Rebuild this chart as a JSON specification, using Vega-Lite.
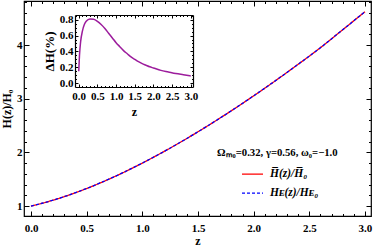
{
"$schema": "https://vega.github.io/schema/vega-lite/v6.json",
"width": 347,
"height": 215,
"autosize": "none",
"padding": {"left": 24, "top": 1, "right": 3, "bottom": 31},
"background": "white",
"config": {
  "view": {"stroke": "black", "strokeWidth": 1.2},
  "font": "Liberation Serif",
  "axis": {"labelFont": "Liberation Serif", "labelFontWeight": "bold", "titleFont": "Liberation Serif", "titleFontWeight": "bold", "labelColor": "black", "titleColor": "black", "tickColor": "black", "domainColor": "black", "grid": false, "labelOverlap": false, "labelFlush": false, "tickWidth": 1}
},
"datasets": {
  "h": [
    {"z": 0.0, "v": 1.0, "s": "H̅(z)/H̅₀"}, {"z": 0.1, "v": 1.0516, "s": "H̅(z)/H̅₀"}, {"z": 0.2, "v": 1.1104, "s": "H̅(z)/H̅₀"}, {"z": 0.3, "v": 1.176, "s": "H̅(z)/H̅₀"}, {"z": 0.4, "v": 1.2482, "s": "H̅(z)/H̅₀"}, {"z": 0.5, "v": 1.3266, "s": "H̅(z)/H̅₀"}, {"z": 0.6, "v": 1.4109, "s": "H̅(z)/H̅₀"}, {"z": 0.7, "v": 1.5007, "s": "H̅(z)/H̅₀"}, {"z": 0.8, "v": 1.5957, "s": "H̅(z)/H̅₀"}, {"z": 0.9, "v": 1.6955, "s": "H̅(z)/H̅₀"}, {"z": 1.0, "v": 1.8, "s": "H̅(z)/H̅₀"}, {"z": 1.2, "v": 2.0217, "s": "H̅(z)/H̅₀"}, {"z": 1.4, "v": 2.2591, "s": "H̅(z)/H̅₀"}, {"z": 1.6, "v": 2.5108, "s": "H̅(z)/H̅₀"}, {"z": 1.8, "v": 2.7757, "s": "H̅(z)/H̅₀"}, {"z": 2.0, "v": 3.0529, "s": "H̅(z)/H̅₀"}, {"z": 2.2, "v": 3.3415, "s": "H̅(z)/H̅₀"}, {"z": 2.4, "v": 3.6411, "s": "H̅(z)/H̅₀"}, {"z": 2.6, "v": 3.9509, "s": "H̅(z)/H̅₀"}, {"z": 2.8, "v": 4.285, "s": "H̅(z)/H̅₀"}, {"z": 3.0, "v": 4.62, "s": "H̅(z)/H̅₀"},
    {"z": 0.0, "v": 1.0, "s": "Hᴇ(z)/Hᴇ₀"}, {"z": 0.1, "v": 1.0516, "s": "Hᴇ(z)/Hᴇ₀"}, {"z": 0.2, "v": 1.1104, "s": "Hᴇ(z)/Hᴇ₀"}, {"z": 0.3, "v": 1.176, "s": "Hᴇ(z)/Hᴇ₀"}, {"z": 0.4, "v": 1.2482, "s": "Hᴇ(z)/Hᴇ₀"}, {"z": 0.5, "v": 1.3266, "s": "Hᴇ(z)/Hᴇ₀"}, {"z": 0.6, "v": 1.4109, "s": "Hᴇ(z)/Hᴇ₀"}, {"z": 0.7, "v": 1.5007, "s": "Hᴇ(z)/Hᴇ₀"}, {"z": 0.8, "v": 1.5957, "s": "Hᴇ(z)/Hᴇ₀"}, {"z": 0.9, "v": 1.6955, "s": "Hᴇ(z)/Hᴇ₀"}, {"z": 1.0, "v": 1.8, "s": "Hᴇ(z)/Hᴇ₀"}, {"z": 1.2, "v": 2.0217, "s": "Hᴇ(z)/Hᴇ₀"}, {"z": 1.4, "v": 2.2591, "s": "Hᴇ(z)/Hᴇ₀"}, {"z": 1.6, "v": 2.5108, "s": "Hᴇ(z)/Hᴇ₀"}, {"z": 1.8, "v": 2.7757, "s": "Hᴇ(z)/Hᴇ₀"}, {"z": 2.0, "v": 3.0529, "s": "Hᴇ(z)/Hᴇ₀"}, {"z": 2.2, "v": 3.3415, "s": "Hᴇ(z)/Hᴇ₀"}, {"z": 2.4, "v": 3.6411, "s": "Hᴇ(z)/Hᴇ₀"}, {"z": 2.6, "v": 3.9509, "s": "Hᴇ(z)/Hᴇ₀"}, {"z": 2.8, "v": 4.285, "s": "Hᴇ(z)/Hᴇ₀"}, {"z": 3.0, "v": 4.62, "s": "Hᴇ(z)/Hᴇ₀"}
  ],
  "dh": [
    {"z": 0.0, "d": 0.15}, {"z": 0.02, "d": 0.35}, {"z": 0.05, "d": 0.52}, {"z": 0.1, "d": 0.66}, {"z": 0.15, "d": 0.74}, {"z": 0.2, "d": 0.78}, {"z": 0.3, "d": 0.81}, {"z": 0.4, "d": 0.805}, {"z": 0.5, "d": 0.78}, {"z": 0.6, "d": 0.74}, {"z": 0.7, "d": 0.69}, {"z": 0.8, "d": 0.63}, {"z": 0.9, "d": 0.57}, {"z": 1.0, "d": 0.51}, {"z": 1.1, "d": 0.46}, {"z": 1.2, "d": 0.41}, {"z": 1.3, "d": 0.37}, {"z": 1.4, "d": 0.33}, {"z": 1.5, "d": 0.30}, {"z": 1.6, "d": 0.27}, {"z": 1.7, "d": 0.245}, {"z": 1.8, "d": 0.225}, {"z": 1.9, "d": 0.205}, {"z": 2.0, "d": 0.19}, {"z": 2.2, "d": 0.16}, {"z": 2.4, "d": 0.14}, {"z": 2.6, "d": 0.12}, {"z": 2.8, "d": 0.105}, {"z": 3.0, "d": 0.09}
  ]
},
"resolve": {"scale": {"x": "independent", "y": "independent"}, "axis": {"x": "independent", "y": "independent"}},
"layer": [
  {
    "data": {"name": "h"},
    "mark": {"type": "line", "interpolate": "monotone", "strokeWidth": 1.3},
    "encoding": {
      "x": {"field": "z", "type": "quantitative",
        "scale": {"domain": [-0.063, 3.054], "nice": false, "zero": false},
        "axis": {"orient": "bottom", "title": "z", "domain": false, "format": ".1f",
          "values": [0,0.1,0.2,0.3,0.4,0.5,0.6,0.7,0.8,0.9,1,1.1,1.2,1.3,1.4,1.5,1.6,1.7,1.8,1.9,2,2.1,2.2,2.3,2.4,2.5,2.6,2.7,2.8,2.9,3],
          "tickSize": {"condition": {"test": "abs(datum.value*2-round(datum.value*2))<0.001", "value": -5}, "value": -2.5},
          "labelExpr": "abs(datum.value*2-round(datum.value*2))<0.001 ? datum.label : ''",
          "labelFontSize": 11, "labelPadding": 11, "titleFontSize": 12, "titlePadding": 0}},
      "y": {"field": "v", "type": "quantitative",
        "scale": {"domain": [0.814, 4.82], "nice": false, "zero": false},
        "axis": {"orient": "left", "title": "H(z)/H₀", "domain": false, "format": ".0f",
          "values": [1,1.2,1.4,1.6,1.8,2,2.2,2.4,2.6,2.8,3,3.2,3.4,3.6,3.8,4,4.2,4.4,4.6,4.8],
          "tickSize": {"condition": {"test": "abs(datum.value-round(datum.value))<0.001", "value": -5}, "value": -2.5},
          "labelExpr": "abs(datum.value-round(datum.value))<0.001 ? datum.label : ''",
          "labelFontSize": 11, "labelPadding": 7, "titleFontSize": 12, "titlePadding": 3}},
      "color": {"field": "s", "type": "nominal",
        "scale": {"domain": ["H̅(z)/H̅₀", "Hᴇ(z)/Hᴇ₀"], "range": ["#ff0000", "#0000ff"]},
        "legend": {"orient": "none", "legendX": 193, "legendY": 147, "padding": 0,
          "title": "Ωₘ₀=0.32, γ=0.56, ω₀=−1.0", "titleFont": "Liberation Serif", "titleFontWeight": "bold", "titleFontSize": 10.7, "titleColor": "black", "titlePadding": 4,
          "labelFont": "Liberation Serif", "labelFontWeight": "bold", "labelFontStyle": "italic", "labelFontSize": 11.5, "labelColor": "black", "labelOffset": 6,
          "symbolType": "stroke", "symbolSize": 441, "symbolStrokeWidth": 1.2, "symbolOffset": 24, "rowPadding": 2}},
      "strokeDash": {"field": "s", "type": "nominal",
        "scale": {"domain": ["H̅(z)/H̅₀", "Hᴇ(z)/Hᴇ₀"], "range": [[1, 0], [3, 2]]},
        "legend": {"orient": "none", "legendX": 193, "legendY": 147, "padding": 0,
          "title": "Ωₘ₀=0.32, γ=0.56, ω₀=−1.0", "titleFont": "Liberation Serif", "titleFontWeight": "bold", "titleFontSize": 10.7, "titleColor": "black", "titlePadding": 4,
          "labelFont": "Liberation Serif", "labelFontWeight": "bold", "labelFontStyle": "italic", "labelFontSize": 11.5, "labelColor": "black", "labelOffset": 6,
          "symbolType": "stroke", "symbolSize": 441, "symbolStrokeWidth": 1.2, "symbolOffset": 24, "rowPadding": 2}}
    }
  },
  {
    "data": {"name": "h"},
    "mark": {"type": "point", "opacity": 0},
    "encoding": {
      "x": {"field": "z", "type": "quantitative",
        "scale": {"domain": [-0.063, 3.054], "nice": false, "zero": false},
        "axis": {"orient": "top", "title": null, "domain": false, "labels": false,
          "values": [0,0.1,0.2,0.3,0.4,0.5,0.6,0.7,0.8,0.9,1,1.1,1.2,1.3,1.4,1.5,1.6,1.7,1.8,1.9,2,2.1,2.2,2.3,2.4,2.5,2.6,2.7,2.8,2.9,3],
          "tickSize": {"condition": {"test": "abs(datum.value*2-round(datum.value*2))<0.001", "value": -5}, "value": -2.5}}},
      "y": {"field": "v", "type": "quantitative",
        "scale": {"domain": [0.814, 4.82], "nice": false, "zero": false},
        "axis": {"orient": "right", "title": null, "domain": false, "labels": false,
          "values": [1,1.2,1.4,1.6,1.8,2,2.2,2.4,2.6,2.8,3,3.2,3.4,3.6,3.8,4,4.2,4.4,4.6,4.8],
          "tickSize": {"condition": {"test": "abs(datum.value-round(datum.value))<0.001", "value": -5}, "value": -2.5}}}
    }
  },
  {
    "data": {"name": "dh"},
    "mark": {"type": "line", "interpolate": "monotone", "strokeWidth": 1.5, "color": "#9c1c9c"},
    "encoding": {
      "x": {"field": "z", "type": "quantitative",
        "scale": {"domain": [-0.1, 3.06], "range": [51, 169], "nice": false, "zero": false},
        "axis": {"orient": "bottom", "offset": -129, "title": "z", "domain": true, "domainWidth": 1.2, "format": ".1f",
          "values": [0,0.1,0.2,0.3,0.4,0.5,0.6,0.7,0.8,0.9,1,1.1,1.2,1.3,1.4,1.5,1.6,1.7,1.8,1.9,2,2.1,2.2,2.3,2.4,2.5,2.6,2.7,2.8,2.9,3],
          "tickSize": {"condition": {"test": "abs(datum.value*2-round(datum.value*2))<0.001", "value": -3}, "value": -1.5},
          "labelExpr": "abs(datum.value*2-round(datum.value*2))<0.001 ? datum.label : ''",
          "labelFontSize": 11, "labelPadding": 6, "titleFontSize": 12, "titlePadding": 4}},
      "y": {"field": "d", "type": "quantitative",
        "scale": {"domain": [-0.05, 0.86], "range": [86, 14], "nice": false, "zero": false},
        "axis": {"orient": "left", "offset": -51, "title": "ΔH(%)", "domain": true, "domainWidth": 1.2, "format": ".1f",
          "values": [0,0.05,0.1,0.15,0.2,0.25,0.3,0.35,0.4,0.45,0.5,0.55,0.6,0.65,0.7,0.75,0.8,0.85],
          "tickSize": {"condition": {"test": "abs(datum.value*5-round(datum.value*5))<0.001", "value": -3}, "value": -1.5},
          "labelExpr": "abs(datum.value*5-round(datum.value*5))<0.001 ? datum.label : ''",
          "labelFontSize": 11, "labelPadding": 5, "titleFontSize": 13, "titlePadding": 3}}
    }
  },
  {
    "data": {"name": "dh"},
    "mark": {"type": "point", "opacity": 0},
    "encoding": {
      "x": {"field": "z", "type": "quantitative",
        "scale": {"domain": [-0.1, 3.06], "range": [51, 169], "nice": false, "zero": false},
        "axis": {"orient": "top", "offset": -14, "title": null, "domain": true, "domainWidth": 1.2, "labels": false,
          "values": [0,0.1,0.2,0.3,0.4,0.5,0.6,0.7,0.8,0.9,1,1.1,1.2,1.3,1.4,1.5,1.6,1.7,1.8,1.9,2,2.1,2.2,2.3,2.4,2.5,2.6,2.7,2.8,2.9,3],
          "tickSize": {"condition": {"test": "abs(datum.value*2-round(datum.value*2))<0.001", "value": -3}, "value": -1.5}}},
      "y": {"field": "d", "type": "quantitative",
        "scale": {"domain": [-0.05, 0.86], "range": [86, 14], "nice": false, "zero": false},
        "axis": {"orient": "right", "offset": -178, "title": null, "domain": true, "domainWidth": 1.2, "labels": false,
          "values": [0,0.05,0.1,0.15,0.2,0.25,0.3,0.35,0.4,0.45,0.5,0.55,0.6,0.65,0.7,0.75,0.8,0.85],
          "tickSize": {"condition": {"test": "abs(datum.value*5-round(datum.value*5))<0.001", "value": -3}, "value": -1.5}}}
    }
  }
]
}
